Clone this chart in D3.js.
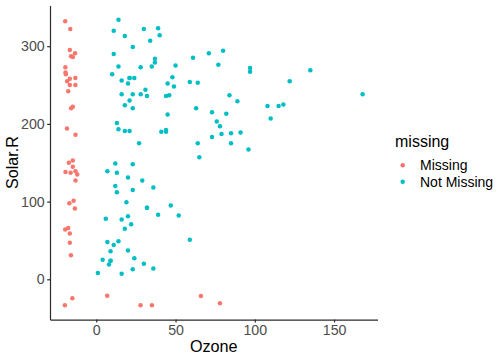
<!DOCTYPE html>
<html><head><meta charset="utf-8">
<script src="https://cdn.jsdelivr.net/npm/d3@7"></script>
<style>body{margin:0;background:#fff}svg{display:block}text{font-family:"Liberation Sans",Arial,sans-serif}</style>
</head><body><div id="chart"></div>
<script>
// Complete cases (Ozone, Solar.R)
const ozoneObs = [41,36,12,18,23,19,8,16,11,14,18,14,34,6,30,11,1,11,4,32,23,45,115,37,29,71,39,23,21,37,20,12,13,135,49,32,64,40,77,97,97,85,10,27,7,48,35,61,79,63,16,80,108,20,52,82,50,64,59,39,9,16,122,89,110,44,28,65,22,59,23,31,44,21,9,45,168,73,76,118,84,85,96,78,73,91,47,32,20,23,21,24,44,21,28,9,13,46,18,24,16,13,23,36,7,14,30,14,18,20];
const solarObs = [190,118,149,313,299,99,19,256,290,274,65,334,307,78,322,44,8,320,25,92,13,252,223,279,127,291,323,148,191,284,37,120,137,269,248,236,175,314,276,267,272,175,264,175,48,260,274,285,187,220,7,294,223,81,82,213,275,253,254,83,24,77,255,229,207,192,273,157,71,51,115,244,190,259,36,212,238,215,203,225,237,188,167,197,183,189,95,92,252,220,230,259,236,259,238,24,112,237,224,27,238,201,238,14,139,49,20,193,191,131,223];
// Missing cases, shown at shifted positions below the observed range
const ozoneMiss = [-19.6,-16.4,-16.7,-13.4,-15.9,-14.8,-19.5,-19.4,-19.2,-13.2,-16.7,-18.4,-16.7,-13.2,-17.7,-15.9,-14.8,-18.5,-13.1,-17.3,-14.8,-14.8,-19.4,-16.2,-13.1,-12.0,-13.1,-17.0,-14.3,-13.5,-19.6,-17.7,-16.7,-16.7,-16.0,
  -19.8,-15.1,6.9,27.9,35.1,66,78];
const solarMiss = [332,322,295,291,287,286,273,266,264,259,258,255,250,250,242,220,222,194,186,150,153,145,138,137,139,135,127,98,101,91,64,66,59,47,31,
  -33.5,-24.5,-21.1,-33.5,-33.5,-21.5,-30.9];
const groups = ["Missing","Not Missing"];
const colors = ["#F8766D","#00BFC4"];
const xTicks = [0,50,100,150];
const yTicks = [0,100,200,300];

const W=504,H=360;
const m={l:50,r:126.5,t:5.5,b:40.4};
const svg=d3.select("#chart").append("svg").attr("width",W).attr("height",H);

const pts=[];
ozoneMiss.forEach((o,i)=>pts.push({x:o,y:solarMiss[i],g:groups[0]}));
ozoneObs.forEach((o,i)=>pts.push({x:o,y:solarObs[i],g:groups[1]}));

const xe=d3.extent(pts,d=>d.x), ye=d3.extent(pts,d=>d.y);
const xp=(xe[1]-xe[0])*0.05, yp=(ye[1]-ye[0])*0.05;
const x=d3.scaleLinear().domain([xe[0]-xp,xe[1]+xp]).range([m.l,W-m.r]);
const y=d3.scaleLinear().domain([ye[0]-yp,ye[1]+yp]).range([H-m.b,m.t]);
const color=d3.scaleOrdinal().domain(groups).range(colors);

const gx=svg.append("g").attr("transform",`translate(0,${H-m.b})`)
  .call(d3.axisBottom(x).tickValues(xTicks).tickSizeInner(2.8).tickSizeOuter(0).tickPadding(2.5));
const gy=svg.append("g").attr("transform",`translate(${m.l},0)`)
  .call(d3.axisLeft(y).tickValues(yTicks).tickSizeInner(2.8).tickSizeOuter(0).tickPadding(2.5));
[gx,gy].forEach(g=>{
  g.select(".domain").attr("stroke","#2b2b2b").attr("stroke-width",1.2);
  g.selectAll(".tick line").attr("stroke","#2b2b2b").attr("stroke-width",1.2);
  g.selectAll(".tick text").attr("fill","#4D4D4D").style("font-size","14.2px").attr("font-family","Liberation Sans, Arial, sans-serif");
});

svg.append("g").selectAll("circle").data(pts).join("circle")
  .attr("cx",d=>x(d.x)).attr("cy",d=>y(d.y)).attr("r",2.25)
  .attr("fill",d=>color(d.g));

svg.append("text").attr("x",(m.l+W-m.r)/2).attr("y",352).attr("text-anchor","middle")
  .style("font-size","16.2px").text("Ozone");
svg.append("text").attr("transform",`translate(17.5,${(m.t+H-m.b)/2}) rotate(-90)`).attr("text-anchor","middle")
  .style("font-size","16.2px").text("Solar.R");

const lg=svg.append("g");
lg.append("text").attr("x",395).attr("y",146.5).style("font-size","16px").text("missing");
groups.forEach((g,i)=>{
  const cy=165.3+i*16.5;
  lg.append("circle").attr("cx",402.7).attr("cy",cy).attr("r",2.25).attr("fill",color(g));
  lg.append("text").attr("x",420).attr("y",cy).attr("dy","0.35em").style("font-size","14px").text(g);
});
</script></body></html>
